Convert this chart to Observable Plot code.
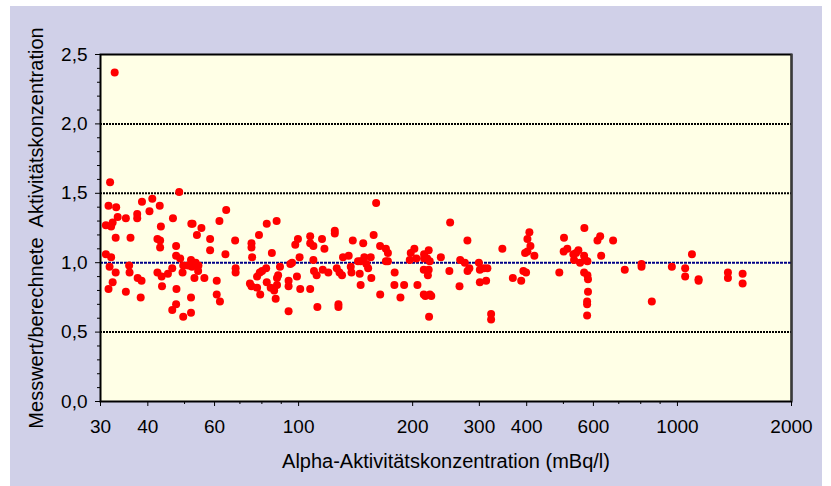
<!DOCTYPE html>
<html>
<head>
<meta charset="utf-8">
<script src="https://cdn.jsdelivr.net/npm/d3@7"></script>
<script src="https://cdn.jsdelivr.net/npm/@observablehq/plot@0.6"></script>
<style>
  html, body { margin: 0; padding: 0; background: #ffffff; }
  #wrap { position: relative; width: 831px; height: 486px; overflow: hidden; }
  #panel { position: absolute; left: 10px; top: 6px; width: 812px; height: 480px; background: #d0d0e8; }
  #chart { position: absolute; left: 0; top: 0; }
</style>
</head>
<body>
<div id="wrap"><div id="panel"></div><div id="chart"></div></div>
<script>
// Alpha activity concentration (mBq/l)
const conc = [
  32.7, 31.8, 48.4, 31.5, 33.0, 38.6, 41.1, 43.0, 40.4, 64.4,
  33.3, 37.5, 37.5, 35.0, 46.6, 31.0, 32.0, 32.3, 52.1, 52.5,
  61.8, 55.4, 43.3, 53.9, 32.9, 36.0, 42.4, 43.1, 58.4, 68.0,
  43.1, 47.5, 58.4, 64.1, 31.0, 32.0, 47.5, 48.7, 52.0, 49.6,
  51.1, 52.3, 54.4, 53.5, 31.7, 35.7, 35.8, 32.9, 42.4, 43.5,
  45.2, 46.4, 49.4, 54.3, 53.1, 56.4, 60.8, 37.6, 38.5, 32.3,
  31.5, 35.0, 43.6, 47.6, 38.3, 60.8, 62.0, 52.0, 47.5, 46.4,
  49.6, 52.0, 68.2, 68.2,
  75.1, 75.1, 78.6, 82.4, 87.5, 75.4, 85.0, 96.1, 95.1, 98.0,
  99.6, 100.6, 107.3, 107.3, 109.4, 115.3, 117.0, 109.4, 124.6, 124.6,
  139.0, 148.1, 135.6, 131.0, 143.5, 145.8, 149.1, 151.0, 152.6, 126.1,
  128.2, 130.2, 137.3, 137.9, 145.0, 145.8, 109.8, 111.6, 115.8, 119.8,
  99.0, 89.3, 88.3, 87.7, 82.1, 80.1, 79.0, 77.7, 74.4, 75.1,
  77.7, 79.2, 82.4, 84.4, 86.2, 87.7, 87.0, 94.1, 94.1, 101.0,
  107.3, 94.1, 112.1, 127.4, 127.4,
  160.2, 157.8, 164.1, 170.0, 172.1, 155.0, 170.0, 172.1, 179.3, 155.6,
  164.2, 179.0, 189.9, 185.7, 197.7, 202.1, 196.5, 204.6, 205.9, 214.4,
  214.4, 220.5, 218.4, 221.9, 214.0, 220.5, 219.4, 214.0, 216.0, 222.0,
  224.0, 221.0, 237.4, 251.2, 250.0, 267.0, 274.6, 279.0, 282.3, 279.2,
  265.9, 299.1, 300.9, 308.3, 315.0, 312.6, 300.9, 322.2, 322.2, 345.0,
  367.7, 386.9, 392.0, 398.5, 396.1, 401.8, 409.2, 401.8, 406.6, 419.1,
  487.7, 501.8, 500.8, 512.0, 531.1, 533.4, 540.0, 547.7, 553.3, 568.0,
  567.0, 570.5, 578.5, 567.0, 578.5, 580.6, 580.6, 577.5, 577.5, 577.5,
  615.0, 625.2, 629.0, 676.3, 726.0,
  803.8, 803.8, 855.7, 966.5, 1048, 1048, 1092, 1137, 1137, 1359,
  1359, 1486, 1486
];
// Measured / calculated activity concentration
const ratio = [
  2.37, 1.58, 1.51, 1.41, 1.40, 1.44, 1.46, 1.41, 1.37, 1.38,
  1.33, 1.35, 1.32, 1.32, 1.32, 1.27, 1.26, 1.29, 1.28, 1.28,
  1.30, 1.25, 1.26, 1.20, 1.18, 1.18, 1.17, 1.16, 1.17, 1.16,
  1.11, 1.12, 1.09, 1.06, 1.06, 1.04, 1.05, 1.03, 1.02, 0.98,
  0.98, 0.97, 0.98, 1.00, 0.97, 0.98, 0.93, 0.93, 0.93, 0.90,
  0.92, 0.96, 0.93, 0.94, 0.89, 0.89, 0.87, 0.89, 0.87, 0.86,
  0.81, 0.79, 0.83, 0.81, 0.75, 0.77, 0.72, 0.75, 0.70, 0.66,
  0.61, 0.64, 0.96, 0.93,
  1.14, 1.11, 1.20, 1.28, 1.30, 1.04, 1.07, 1.00, 0.99, 1.13,
  1.17, 1.04, 1.19, 1.14, 1.12, 1.17, 1.10, 1.02, 1.23, 1.21,
  1.16, 1.14, 1.05, 1.04, 1.01, 1.01, 1.04, 0.99, 0.96, 0.96,
  0.93, 0.91, 0.97, 0.93, 0.92, 0.84, 0.94, 0.91, 0.95, 0.93,
  0.90, 0.97, 0.91, 0.89, 0.96, 0.94, 0.93, 0.90, 0.85, 0.83,
  0.82, 0.77, 0.86, 0.82, 0.80, 0.84, 0.74, 0.87, 0.83, 0.81,
  0.81, 0.65, 0.68, 0.70, 0.68,
  1.43, 1.20, 1.12, 1.10, 1.07, 1.04, 1.01, 1.01, 0.93, 0.89,
  0.77, 0.84, 0.84, 0.75, 1.07, 1.10, 1.02, 1.03, 0.84, 1.06,
  1.03, 1.09, 1.03, 1.01, 0.95, 0.95, 0.91, 0.77, 0.76, 0.77,
  0.76, 0.61, 1.04, 1.29, 0.94, 1.02, 1.00, 1.16, 0.96, 0.94,
  0.83, 1.00, 0.95, 0.96, 0.96, 0.87, 0.86, 0.63, 0.59, 1.10,
  0.89, 0.87, 0.94, 0.93, 1.07, 1.08, 1.12, 1.17, 1.22, 1.05,
  0.93, 1.18, 1.08, 1.10, 1.06, 1.02, 1.07, 1.09, 1.00, 1.25,
  1.05, 1.02, 1.01, 0.93, 0.91, 0.88, 0.79, 0.72, 0.70, 0.62,
  1.16, 1.19, 1.05, 1.16, 0.95,
  0.99, 0.97, 0.72, 0.97, 0.96, 0.90, 1.06, 0.88, 0.87, 0.93,
  0.89, 0.92, 0.85
];
const xMajor = [30, 40, 60, 100, 200, 300, 400, 600, 1000, 2000];
const xMinor = [50, 70, 80, 90, 500, 700, 800, 900];
const yMajor = [0, 0.5, 1.0, 1.5, 2.0, 2.5];
const yMinor = [0.1, 0.2, 0.3, 0.4, 0.6, 0.7, 0.8, 0.9, 1.1, 1.2, 1.3, 1.4, 1.6, 1.7, 1.8, 1.9, 2.1, 2.2, 2.3, 2.4];
const gridDotted = [0.5, 1.5, 2.0];
const refLine = [1.0];
const xTitle = "Alpha-Aktivitätskonzentration (mBq/l)";
const yTitle = "Messwert/berechnete  Aktivitätskonzentration";

const data = conc.map((c, i) => ({conc: c, ratio: ratio[i]}));
const font = "'Liberation Sans', Arial, Helvetica, sans-serif";

const chart = Plot.plot({
  width: 831,
  height: 486,
  marginLeft: 100,
  marginRight: 40,
  marginTop: 54,
  marginBottom: 85,
  style: {background: "transparent", fontFamily: font, color: "black", overflow: "visible"},
  x: {type: "log", domain: [30, 2000]},
  y: {domain: [0, 2.5]},
  marks: [
    Plot.frame({fill: "#ffffe6", stroke: null}),
    Plot.ruleY(gridDotted, {stroke: "black", strokeWidth: 2, strokeDasharray: "2,1"}),
    Plot.ruleY(refLine, {stroke: "#000088", strokeWidth: 2, strokeDasharray: "3,1"}),
    Plot.dot(data, {x: "conc", y: "ratio", r: 4, fill: "#ff0000", stroke: null}),
    Plot.frame({stroke: "black", strokeWidth: 2}),
    Plot.ruleX([2000], {stroke: "#3a3a3a", strokeWidth: 2}),
    Plot.axisY(yMajor, {anchor: "left", tickSize: 5, tickPadding: 8, fontSize: 19,
      tickFormat: d => d.toFixed(1).replace(".", ","), label: null, stroke: "black"}),
    Plot.axisY(yMinor, {anchor: "left", tickSize: 3, text: null, label: null, stroke: "black"}),
    Plot.axisX(xMajor, {anchor: "bottom", tickSize: 5, text: null, label: null, stroke: "black"}),
    Plot.axisX(xMinor, {anchor: "bottom", tickSize: 3, text: null, label: null, stroke: "black"}),
    Plot.text(xMajor, {x: d => d, text: d => String(d), frameAnchor: "bottom", dy: 18,
      lineAnchor: "top", fontSize: 19, fill: "black"}),
    Plot.text([yTitle], {frameAnchor: "left", rotate: -90, dx: -64, fontSize: 20,
      textAnchor: "middle", lineAnchor: "middle", fill: "black"}),
    Plot.text([xTitle], {frameAnchor: "bottom", dy: 60, fontSize: 20,
      textAnchor: "middle", lineAnchor: "middle", fill: "black"})
  ]
});
document.getElementById("chart").appendChild(chart);
</script>
</body>
</html>
